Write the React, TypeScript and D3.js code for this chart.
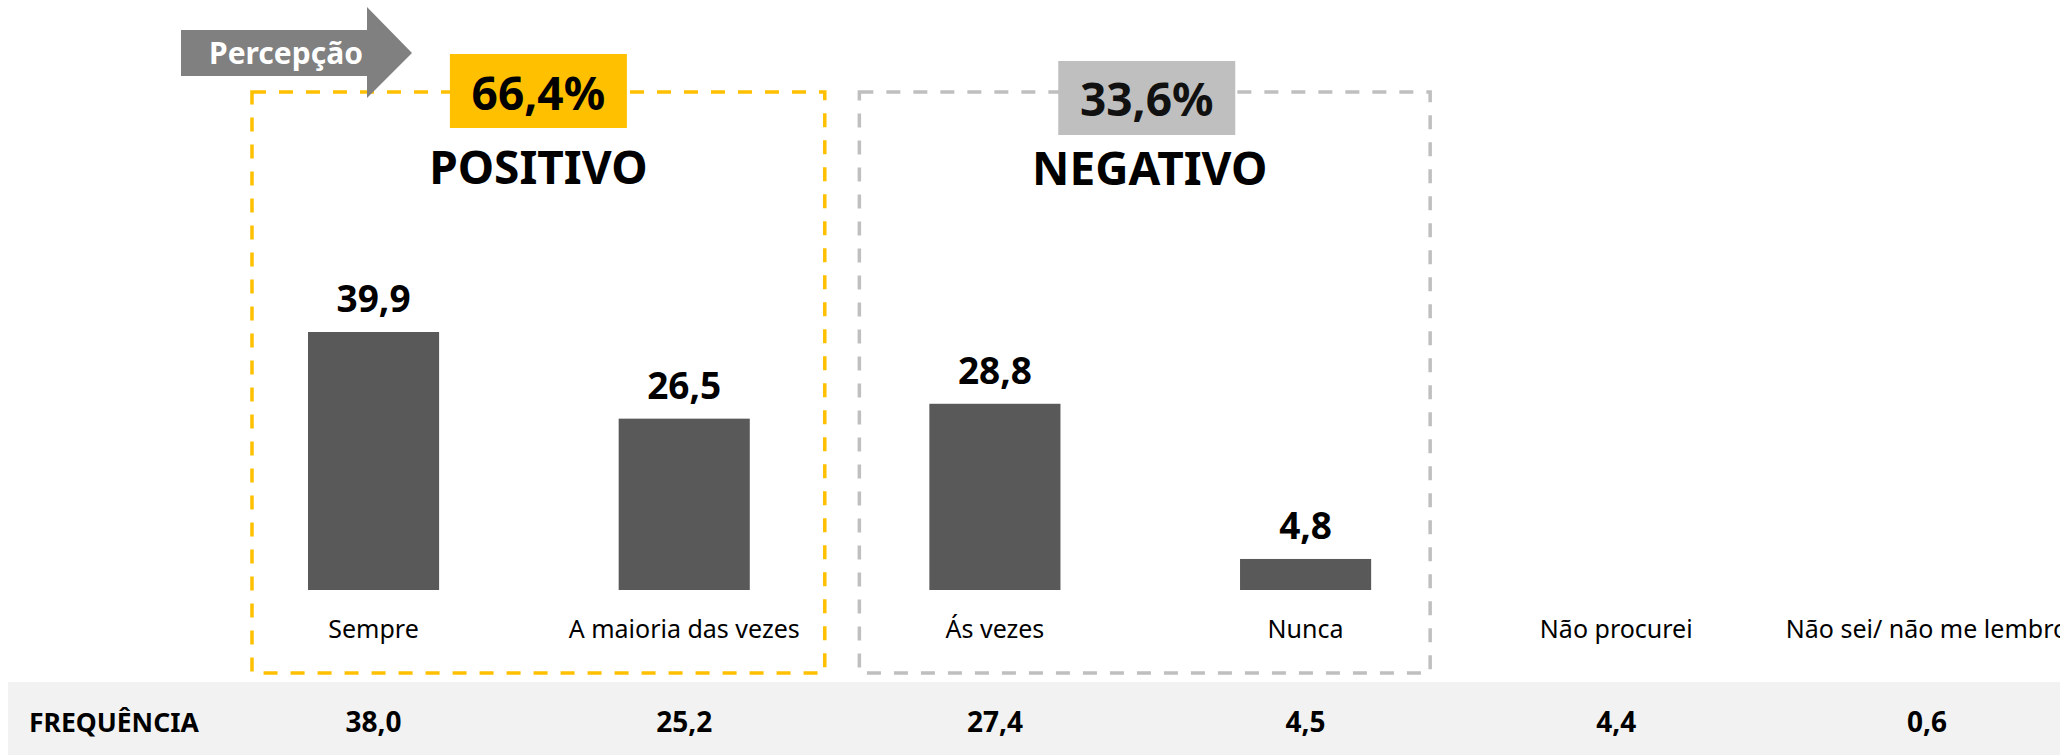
import React, { useEffect, useRef } from "react";
import * as d3 from "d3";

// categorias e valores (percepção / frequência)
const categories = ["Sempre", "A maioria das vezes", "Ás vezes", "Nunca", "Não procurei", "Não sei/ não me lembro"];
const percepcao = [39.9, 26.5, 28.8, 4.8, null, null];
const frequencia = [38.0, 25.2, 27.4, 4.5, 4.4, 0.6];

const groupLabels = ["POSITIVO", "NEGATIVO"];
const groupTotals = ["66,4%", "33,6%"];
const groupMembers = [[0, 1], [2, 3]];

const fmt = (v: number) => v.toFixed(1).replace(".", ",");

export default function App() {
    const svgRef = useRef<SVGSVGElement>(null);

    useEffect(() => {
        const width = 2060;
        const height = 755;
        const font = "'Noto Sans', 'Open Sans', sans-serif";

        const root = d3.select(svgRef.current);
        root.selectAll("*").remove();
        const svg = root.attr("width", width).attr("height", height);

        // escalas
        const x = d3.scaleBand<string>()
            .domain(categories)
            .range([218.2, 2082.3])
            .paddingInner(0.578)
            .paddingOuter(0.289);

        const y = d3.scaleLinear()
            .domain([0, 40])
            .range([590, 590 - 40 * 6.466]);

        const cx = (c: string) => (x(c) as number) + x.bandwidth() / 2;

        // faixa de frequência
        svg.append("rect")
            .attr("x", 8).attr("y", 682)
            .attr("width", width - 8).attr("height", height - 682)
            .attr("fill", "#f2f2f2");

        // caixas tracejadas
        const boxStyle = [
            { color: "#ffc000", padL: 56, padR: 75, badgeY: 54, textY: 110, titleY: 184, textColor: "#000" },
            { color: "#bfbfbf", padL: 70, padR: 59, badgeY: 61, textY: 116, titleY: 185, textColor: "#111" },
        ];

        groupMembers.forEach((m, i) => {
            const st = boxStyle[i];
            const left = (x(categories[m[0]]) as number) - st.padL;
            const right = (x(categories[m[m.length - 1]]) as number) + x.bandwidth() + st.padR;
            const mid = (left + right) / 2;

            svg.append("rect")
                .attr("x", left).attr("y", 92)
                .attr("width", right - left).attr("height", 673 - 92)
                .attr("fill", "none")
                .attr("stroke", st.color)
                .attr("stroke-width", 3.5)
                .attr("stroke-dasharray", "14 13");

            svg.append("rect")
                .attr("x", mid - 88.5 + (i === 1 ? 2 : 0)).attr("y", st.badgeY)
                .attr("width", 177).attr("height", 74)
                .attr("fill", st.color);

            svg.append("text")
                .attr("x", mid + (i === 1 ? 2 : 0)).attr("y", st.textY)
                .attr("text-anchor", "middle")
                .attr("font-family", font).attr("font-weight", 700)
                .attr("font-size", 46)
                .attr("fill", st.textColor)
                .text(groupTotals[i]);

            svg.append("text")
                .attr("x", mid + (i === 1 ? 5 : 0)).attr("y", st.titleY)
                .attr("text-anchor", "middle")
                .attr("font-family", font).attr("font-weight", 700)
                .attr("font-size", 46)
                .attr("fill", "#000")
                .text(groupLabels[i]);
        });

        // seta "Percepção"
        svg.append("path")
            .attr("d", "M181,30 H367 V7 L412,53 L367,98 V76 H181 Z")
            .attr("fill", "#808080");
        svg.append("text")
            .attr("x", 209).attr("y", 64)
            .attr("font-family", font).attr("font-weight", 700)
            .attr("font-size", 30)
            .attr("fill", "#fff")
            .text("Percepção");

        // barras
        const barData = categories
            .map((c, i) => ({ c, v: percepcao[i] }))
            .filter(d => d.v !== null) as { c: string; v: number }[];

        svg.selectAll(".bar")
            .data(barData)
            .enter()
            .append("rect")
            .attr("class", "bar")
            .attr("x", d => x(d.c) as number)
            .attr("y", d => y(d.v))
            .attr("width", x.bandwidth())
            .attr("height", d => y(0) - y(d.v))
            .attr("fill", "#595959");

        svg.selectAll(".bar-label")
            .data(barData)
            .enter()
            .append("text")
            .attr("class", "bar-label")
            .attr("x", d => cx(d.c))
            .attr("y", d => y(d.v) - 20)
            .attr("text-anchor", "middle")
            .attr("font-family", font).attr("font-weight", 700)
            .attr("font-size", 37)
            .attr("fill", "#000")
            .text(d => fmt(d.v));

        // rótulos das categorias
        svg.selectAll(".cat")
            .data(categories)
            .enter()
            .append("text")
            .attr("class", "cat")
            .attr("x", d => cx(d))
            .attr("y", 638)
            .attr("text-anchor", "middle")
            .attr("font-family", font)
            .attr("font-size", 25)
            .attr("fill", "#000")
            .text(d => d);

        // linha de frequência
        svg.append("text")
            .attr("x", 29).attr("y", 732)
            .attr("font-family", font).attr("font-weight", 700)
            .attr("font-size", 26.5)
            .attr("fill", "#000")
            .text("FREQUÊNCIA");

        svg.selectAll(".freq")
            .data(frequencia)
            .enter()
            .append("text")
            .attr("class", "freq")
            .attr("x", (d, i) => cx(categories[i]))
            .attr("y", 732)
            .attr("text-anchor", "middle")
            .attr("font-family", font).attr("font-weight", 700)
            .attr("font-size", 28)
            .attr("fill", "#000")
            .text(d => fmt(d));
    }, []);

    return <svg ref={svgRef} style={{ position: "absolute", left: 0, top: 0, display: "block" }}></svg>;
}
